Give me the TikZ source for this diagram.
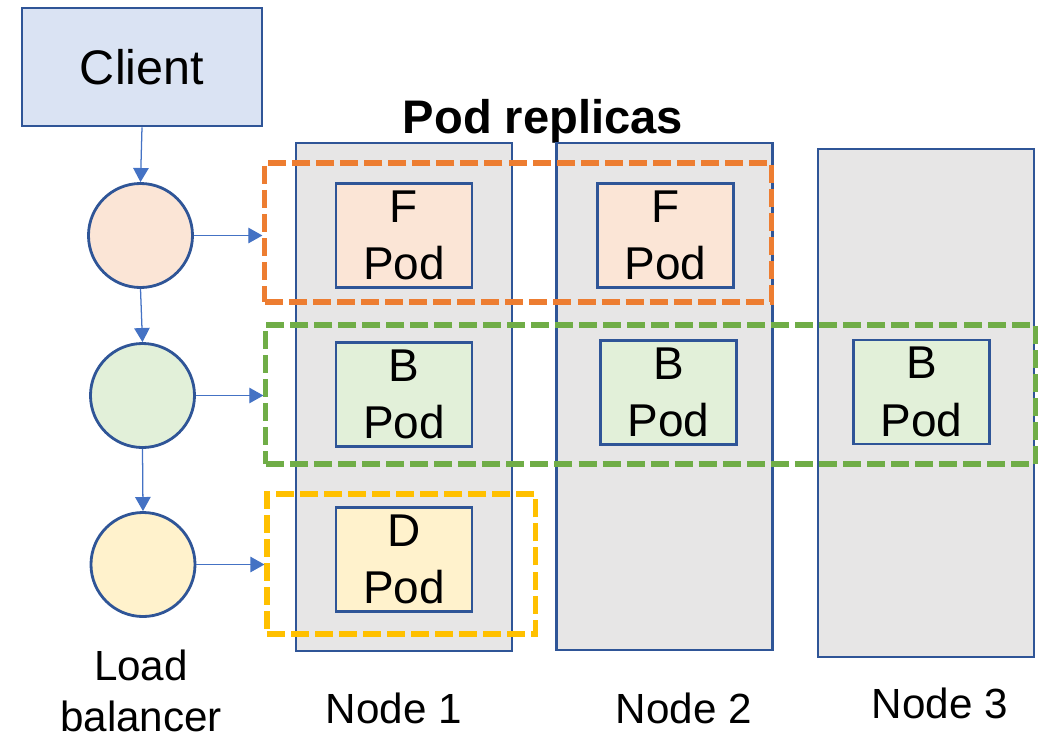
\documentclass[tikz,border=0pt]{standalone}
\usepackage{fontspec}
\setmainfont{Liberation Sans}
\usetikzlibrary{arrows.meta, positioning}
\definecolor{cblue}{HTML}{2F5597}
\definecolor{carrow}{HTML}{4472C4}
\definecolor{cclient}{HTML}{DAE3F3}
\definecolor{cgrey}{HTML}{E7E6E6}
\definecolor{corange}{HTML}{ED7D31}
\definecolor{cgreen}{HTML}{70AD47}
\definecolor{cyellow}{HTML}{FFC000}
\definecolor{fpink}{HTML}{FBE5D6}
\definecolor{fgreen}{HTML}{E2F0D9}
\definecolor{fyellow}{HTML}{FFF2CC}
\tikzset{
  every picture/.style={x=0.025cm, y=-0.025cm},
  arrow/.style={-{Triangle[length=10pt, width=11pt]}, draw=carrow, line width=0.9pt},
  title/.style={font=\fontsize{33.5}{40}\selectfont\bfseries, inner sep=0pt},
  lbl/.style={font=\fontsize{30}{36}\selectfont, inner sep=0pt, align=center},
}

\begin{document}
\begin{tikzpicture}[col/.style={draw=cblue, fill=cgrey, line width=1.5pt, minimum width=5.4cm, minimum height=12.68cm, inner sep=0pt},
  pod/.style={draw=cblue, fill=#1, line width=1.5pt, minimum width=3.4cm, minimum height=2.6cm, align=center, inner sep=0pt, font=\fontsize{32.7}{41}\selectfont},
  lb/.style={circle, draw=cblue, fill=#1, line width=2pt, minimum size=2.6cm, inner sep=0pt},
  group/.style={draw=#1, line width=3.6pt, dash pattern=on 12.8pt off 4.3pt, inner sep=0pt}]
  \useasboundingbox (0,0) rectangle (1043,737);
  \node[draw=cblue, fill=cclient, line width=1.8pt, minimum width=6cm, minimum height=2.95cm, font=\fontsize{34.5}{42}\selectfont] (client) at (142,67) {Client};
  \node[title, anchor=base] (podtitle) at (543,133) {Pod replicas};
  \foreach \i/\x/\y in {1/404/397, 2/664.5/396.5, 3/926/403} {
    \node[col] (col\i) at (\x,\y) {};
  }
  \node[group=corange, minimum width=12.65cm, minimum height=3.475cm] (grpF) at (518,232.5) {};
  \node[group=cgreen, minimum width=19.225cm, minimum height=3.475cm] (grpB) at (650.5,394.5) {};
  \node[group=cyellow, minimum width=6.7cm, minimum height=3.5cm] (grpD) at (401,564) {};
  \foreach \n/\x/\y/\t/\c in {F1/404/235.5/F/fpink, F2/665.5/235.5/F/fpink, B1/404/394.5/B/fgreen, B2/668.5/392.5/B/fgreen, B3/921.5/392/B/fgreen, D1/404/559.5/D/fyellow}
    \node[pod=\c] (\n) at (\x,\y) {\t\\Pod};
  \node[lb=fpink] (lb1) at (140.5,235.5) {};
  \node[lb=fgreen] (lb2) at (142.5,395.5) {};
  \node[lb=fyellow] (lb3) at (143,564.5) {};
  \draw[arrow] (client.south) -- (lb1.north);
  \draw[arrow] (lb1.south) -- (lb2.north);
  \draw[arrow] (lb2.south) -- (lb3.north);
  \draw[arrow] (lb1.east) -- (lb1.east -| grpF.west);
  \draw[arrow] (lb2.east) -- (lb2.east -| grpB.west);
  \draw[arrow] (lb3.east) -- (lb3.east -| grpD.west);
  \node[lbl, anchor=north] (lbtext) at (141,650) {Load\\balancer};
  \node[lbl, anchor=base] (n1text) at (394,723) {Node 1};
  \node[lbl, anchor=base] (n2text) at (684,723) {Node 2};
  \node[lbl, anchor=base] (n3text) at (940,718) {Node 3};
\end{tikzpicture}
\end{document}
